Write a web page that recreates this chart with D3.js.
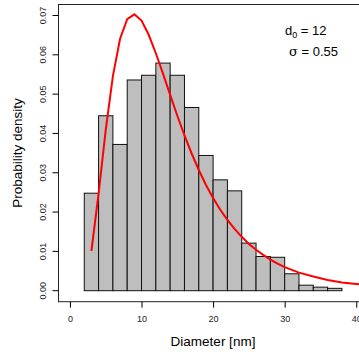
<!DOCTYPE html>
<html>
<head>
<meta charset="utf-8">
<script src="https://cdn.jsdelivr.net/npm/d3@7"></script>
<style>
    body { margin: 0; background: #fff; }
    text { font-family: "Liberation Sans", Arial, sans-serif; }
</style>
</head>
<body>
<svg id="chart" width="359" height="354"></svg>
<script>
// Histogram bins (nm) and their density
var binStart = [2, 4, 6, 8, 10, 12, 14, 16, 18, 20, 22, 24, 26, 28, 30, 32, 34, 36, 38, 40];
var binDensity = [0.0248, 0.0445, 0.0372, 0.0536, 0.0548, 0.0579, 0.0548, 0.0466, 0.0344, 0.0282,
    0.0254, 0.0121, 0.0087, 0.0085, 0.0043, 0.0014, 0.0009, 0.0006, 0, 0];
var binWidth = 2;

// Red fitted curve
var curveD = [3, 4, 5, 6, 7, 8, 9, 10, 11, 12, 13, 14, 15, 16, 17, 18, 19, 20, 21, 22, 23, 24, 25,
    26, 27, 28, 29, 30, 32, 34, 36, 38, 40, 42];
var curveDensity = [0.0101, 0.0247, 0.0409, 0.0546, 0.0641, 0.0691, 0.0703, 0.0687, 0.0651, 0.0604,
    0.0552, 0.0498, 0.0445, 0.0395, 0.0349, 0.0307, 0.0269, 0.0236, 0.0206, 0.0180, 0.0157, 0.0137,
    0.0119, 0.0104, 0.0091, 0.0079, 0.0069, 0.0060, 0.0046, 0.0036, 0.0027, 0.0021, 0.0017, 0.0013];

var xTicks = [0, 10, 20, 30, 40];
var yTicks = [0, 0.01, 0.02, 0.03, 0.04, 0.05, 0.06, 0.07];
var legendLines = [["d", "0", " = 12"], ["\u03c3", "", " = 0.55"]];

var svg = d3.select("#chart");

// plot region (goes past the right edge, like the original)
var plotLeft = 58.5, plotTop = 4.5, plotRight = 367.7, plotBottom = 301.7;

var x = d3.scaleLinear().domain([-1.6, 41.6]).range([plotLeft, plotRight]);
var y = d3.scaleLinear().domain([-0.0028, 0.0728]).range([plotBottom, plotTop]);

// bars
svg.append("g")
    .selectAll("rect")
    .data(binStart)
    .enter()
    .append("rect")
    .attr("x", function (d) { return x(d); })
    .attr("y", function (d, i) { return y(binDensity[i]); })
    .attr("width", function (d) { return x(d + binWidth) - x(d); })
    .attr("height", function (d, i) { return y(0) - y(binDensity[i]); })
    .style("fill", "#bebebe")
    .style("stroke", "#111")
    .style("stroke-width", 1);

// fitted curve
var line = d3.line()
    .x(function (d, i) { return x(d); })
    .y(function (d, i) { return y(curveDensity[i]); });

svg.append("path")
    .attr("d", line(curveD))
    .style("fill", "none")
    .style("stroke", "#ff0000")
    .style("stroke-width", 2);

// box around the plot region
svg.append("rect")
    .attr("x", plotLeft)
    .attr("y", plotTop)
    .attr("width", plotRight - plotLeft)
    .attr("height", plotBottom - plotTop)
    .style("fill", "none")
    .style("stroke", "#222")
    .style("stroke-width", 1);

// x axis
var xAxis = d3.axisBottom(x)
    .tickValues(xTicks)
    .tickSize(6)
    .tickPadding(8)
    .tickFormat(d3.format("d"));

var gx = svg.append("g")
    .attr("transform", "translate(0," + plotBottom + ")")
    .call(xAxis);
gx.select(".domain").remove();
gx.selectAll("text")
    .style("font-size", "9px")
    .style("fill", "#222");

// y axis, labels turned like R does
var yAxis = d3.axisLeft(y)
    .tickValues(yTicks)
    .tickSize(6)
    .tickFormat(d3.format(".2f"));

var gy = svg.append("g")
    .attr("transform", "translate(" + plotLeft + ",0)")
    .call(yAxis);
gy.select(".domain").remove();
gy.selectAll(".tick").attr("transform", null);
gy.selectAll(".tick line")
    .attr("y1", function (d) { return y(d); })
    .attr("y2", function (d) { return y(d); });
gy.selectAll("text")
    .attr("x", 0)
    .attr("y", 0)
    .attr("dy", 0)
    .attr("transform", function (d) { return "translate(-13," + y(d) + ") rotate(-90)"; })
    .style("text-anchor", "middle")
    .style("font-size", "9px")
    .style("fill", "#222");

// axis titles
svg.append("text")
    .attr("x", 213)
    .attr("y", 346)
    .attr("text-anchor", "middle")
    .style("font-size", "13.5px")
    .text("Diameter [nm]");

svg.append("text")
    .attr("transform", "translate(22,153) rotate(-90)")
    .attr("text-anchor", "middle")
    .style("font-size", "13.5px")
    .text("Probability density");

// parameters in the corner
var legendX = [285, 289];
var legendY = [35, 56];
legendLines.forEach(function (parts, i) {
    var t = svg.append("text")
        .attr("x", legendX[i])
        .attr("y", legendY[i])
        .style("font-size", "13px");
    t.append("tspan")
        .style("font-family", i == 1 ? "'DejaVu Serif', serif" : null)
        .text(parts[0]);
    if (parts[1]) {
        t.append("tspan")
            .attr("dy", 3)
            .style("font-size", "9px")
            .text(parts[1]);
        t.append("tspan").attr("dy", -3).text(parts[2]);
    } else {
        t.append("tspan").text(parts[2]);
    }
});
</script>
</body>
</html>
